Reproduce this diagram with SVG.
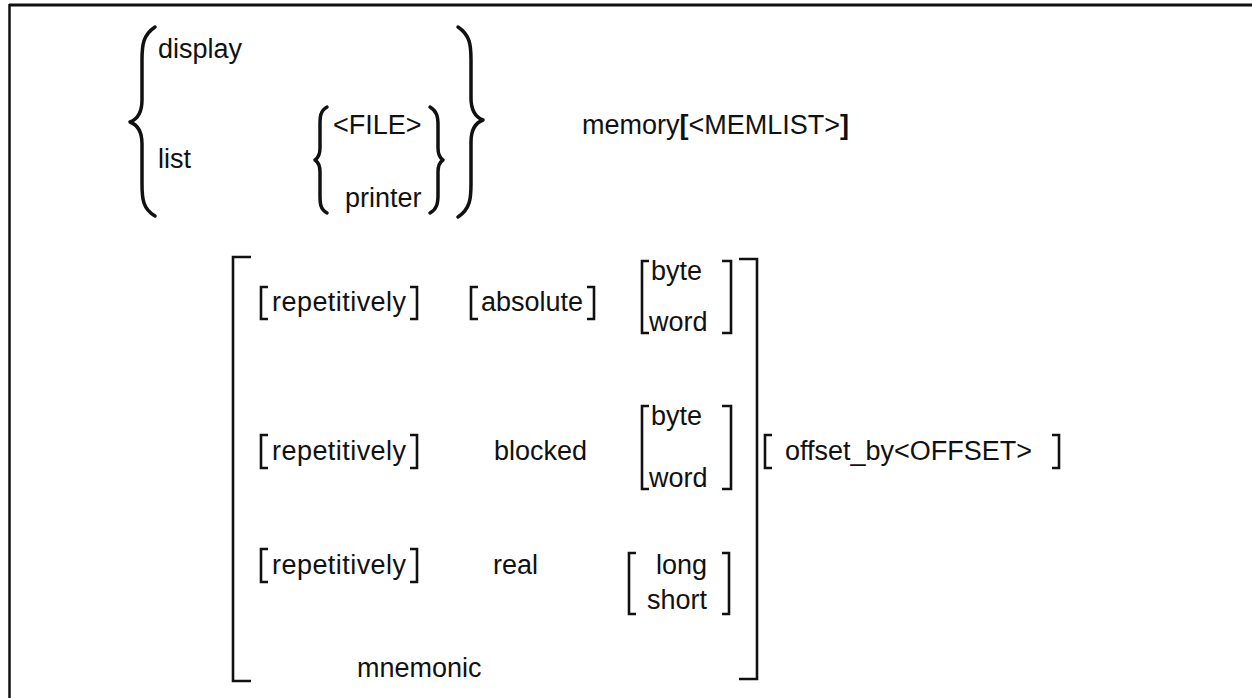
<svg xmlns="http://www.w3.org/2000/svg" width="1252" height="698" viewBox="0 0 1252 698">
<style>
text{font-family:"Liberation Sans",Arial,Helvetica,sans-serif;font-size:27px;fill:#111}
.b{font-weight:bold}
.br{fill:none;stroke:#111;stroke-width:2.6;stroke-linejoin:miter;stroke-linecap:butt}
.cb{fill:none;stroke:#111;stroke-width:3.5;stroke-linecap:round;stroke-linejoin:round}
.frame{fill:none;stroke:#111}
</style>
<rect width="1252" height="698" fill="#fff"/>
<g id="frame">
<line class="frame" x1="9" y1="5" x2="1252" y2="5" stroke-width="3"/>
<line class="frame" x1="9.5" y1="4" x2="9.5" y2="698" stroke-width="2.5"/>
</g>
<g id="command">
<path class="cb" d="M155,27 C143,35 142,45 142,60 L142,100 C142,112 138,119 130,122 C138,125 142,132 142,144 L142,184 C142,199 143,209 155,216"/>
<text id="display" x="158" y="58">display</text>
<text id="list" x="158" y="168">list</text>
<path class="cb" d="M327,107 C320,111 320,117 320,125 L320,148 C320,155 318,158 315,160 C318,162 320,165 320,172 L320,195 C320,203 320,209 327,213"/>
<text id="file" x="333" y="134">&lt;FILE&gt;</text>
<text id="printer" x="345" y="207">printer</text>
<path class="cb" d="M430,107 C437,111 438,117 438,125 L438,148 C438,155 440,158 443,160 C440,162 438,165 438,172 L438,195 C438,203 437,209 430,213"/>
<path class="cb" d="M458,27 C470,35 471,45 471,60 L471,98 C471,110 475,117 483,120 C475,123 471,130 471,142 L471,184 C471,199 470,209 458,217"/>
</g>
<g id="memory">
<text x="582" y="134">memory<tspan class="b">[</tspan>&lt;MEMLIST&gt;<tspan class="b">]</tspan></text>
</g>
<g id="options">
<path class="br" d="M251,257 H233 V681 H251"/>
<path class="br" d="M739,259 H757 V679 H739"/>
</g>
<g id="row1">
<path class="br" d="M268,287 H261 V319 H268"/>
<text x="272" y="311" textLength="134">repetitively</text>
<path class="br" d="M410,287 H417 V319 H410"/>
<path class="br" d="M478,287 H471 V319 H478"/>
<text x="481" y="311">absolute</text>
<path class="br" d="M587,287 H594 V319 H587"/>
<path class="br" d="M649,261 H642 V333 H649"/>
<text x="651" y="280">byte</text>
<text x="649" y="331">word</text>
<path class="br" d="M722,261 H731 V333 H722"/>
</g>
<g id="row2">
<path class="br" d="M268,435 H261 V468 H268"/>
<text x="272" y="460" textLength="134">repetitively</text>
<path class="br" d="M410,435 H417 V468 H410"/>
<text x="494" y="460">blocked</text>
<path class="br" d="M649,406 H642 V489 H649"/>
<text x="651" y="425">byte</text>
<text x="649" y="487">word</text>
<path class="br" d="M722,406 H731 V489 H722"/>
</g>
<g id="row3">
<path class="br" d="M268,549 H261 V582 H268"/>
<text x="272" y="574" textLength="134">repetitively</text>
<path class="br" d="M410,549 H417 V582 H410"/>
<text x="493" y="574">real</text>
<path class="br" d="M636,553 H629 V614 H636"/>
<text x="656" y="574">long</text>
<text x="647" y="609">short</text>
<path class="br" d="M722,553 H729 V614 H722"/>
</g>
<g id="row4">
<text x="357" y="677">mnemonic</text>
</g>
<g id="offset">
<path class="br" d="M772,435 H765 V468 H772"/>
<text x="785" y="460">offset_by&lt;OFFSET&gt;</text>
<path class="br" d="M1052,435 H1059 V468 H1052"/>
</g>
</svg>
